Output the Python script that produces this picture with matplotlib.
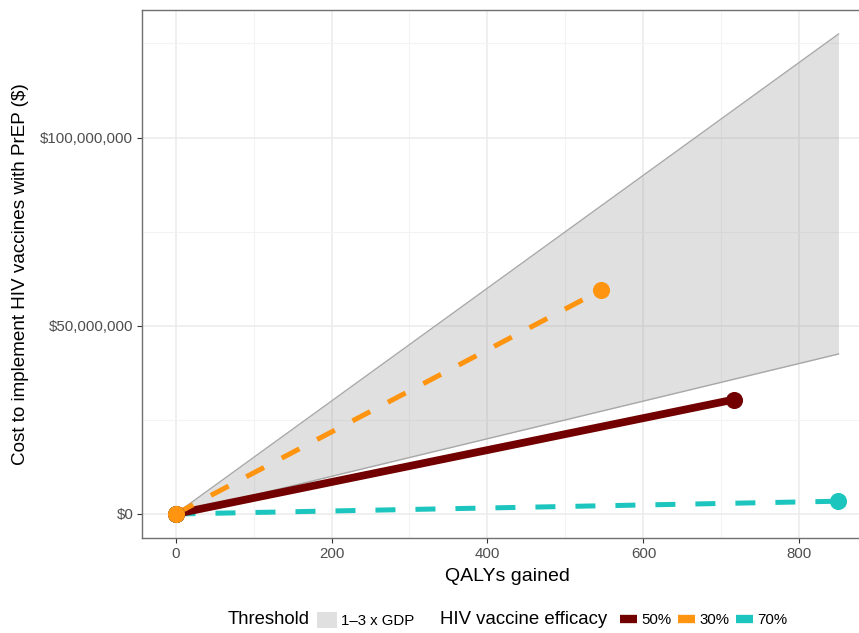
import matplotlib
matplotlib.use("Agg")
import matplotlib.pyplot as plt
from matplotlib.patches import Patch
from matplotlib.lines import Line2D
from matplotlib.ticker import FuncFormatter, MultipleLocator

plt.rcParams['font.family'] = ['Liberation Sans', 'DejaVu Sans']

# Data
ribbon_x = [0, 850]
ribbon_lower = [0, 42.5e6]
ribbon_upper = [0, 127.5e6]

efficacy_labels = ["50%", "30%", "70%"]
qalys_end = [716, 545, 850]
cost_end = [30.4e6, 59.4e6, 3.4e6]
colors = ["#730000", "#FF9410", "#1CC5BD"]
styles = ["solid", "dashed", "dashed"]

W, H = 859, 633
fig = plt.figure(figsize=(W/100, H/100), dpi=100)
x0, x1 = -42.5, 892.5
y0, y1 = -6.375e6, 133.875e6
left_px = 175.5 + x0*0.78
right_px = 175.5 + x1*0.78
ax = fig.add_axes([left_px/W, (H-538)/H, (right_px-left_px)/W, 528/H])
ax.set_xlim(x0, x1)
ax.set_ylim(y0, y1)

ax.set_axisbelow(True)
ax.xaxis.set_major_locator(MultipleLocator(200))
ax.xaxis.set_minor_locator(MultipleLocator(100))
ax.yaxis.set_major_locator(MultipleLocator(50e6))
ax.yaxis.set_minor_locator(MultipleLocator(25e6))
ax.grid(which='major', color='#EBEBEB', lw=1.1)
ax.grid(which='minor', color='#F3F3F3', lw=0.8)
ax.tick_params(which='minor', length=0)
ax.tick_params(which='major', length=3.5, color='#333333', labelsize=10.8, labelcolor='#4D4D4D', pad=3)
ax.yaxis.set_major_formatter(FuncFormatter(lambda v, p: "${:,.0f}".format(v)))
for s in ax.spines.values():
    s.set_color('#707070')
    s.set_linewidth(1.0)

ax.fill_between(ribbon_x, ribbon_lower, ribbon_upper, color='#7F7F7F', alpha=0.24, lw=0, zorder=2)
ax.plot(ribbon_x, ribbon_lower, color='#A8A8A8', lw=1.0, zorder=2.1)
ax.plot(ribbon_x, ribbon_upper, color='#A8A8A8', lw=1.0, zorder=2.1)

order = [2, 0, 1]  # draw 70%, 50%, then 30% on top
for i in order:
    xs = [0, qalys_end[i]]
    ys = [0, cost_end[i]]
    if styles[i] == 'solid':
        ax.plot(xs, ys, color=colors[i], lw=5.6, solid_capstyle='butt', zorder=3)
    else:
        ax.plot(xs, ys, color=colors[i], lw=3.6, linestyle=(0, (4, 4)), dash_capstyle='butt', zorder=3)
    ax.plot(xs, ys, 'o', color=colors[i], ms=12.3, mec='none', zorder=4)

ax.set_xlabel("QALYs gained", fontsize=14, color='black', labelpad=5)
ax.set_ylabel("Cost to implement HIV vaccines with PrEP ($)", fontsize=13.6, color='black', labelpad=8)

ly = 1 - 620/H
fig.text(228/W, ly, "Threshold", fontsize=13.3, va='center', ha='left')
fig.legend(handles=[Patch(facecolor='#E0E0E0', edgecolor='none', label='1–3 x GDP')],
           loc='center left', bbox_to_anchor=(317/W, ly), frameon=False, fontsize=10.8,
           handlelength=1.35, handleheight=1.35, handletextpad=0.25, borderpad=0, borderaxespad=0)
fig.text(440/W, ly, "HIV vaccine efficacy", fontsize=13.4, va='center', ha='left')
handles = [Line2D([0], [0], color=c, lw=6, solid_capstyle='butt', label=l) for c, l in zip(colors, efficacy_labels)]
fig.legend(handles=handles, loc='center left', bbox_to_anchor=(620/W, ly), frameon=False, fontsize=10.8,
           ncol=3, handlelength=1.15, handletextpad=0.3, columnspacing=0.4, borderpad=0, borderaxespad=0)

fig.savefig("out.png", dpi=100)
